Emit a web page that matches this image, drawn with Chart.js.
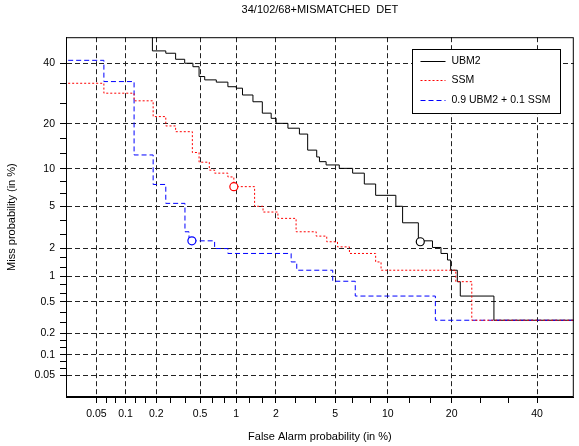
<!DOCTYPE html>
<html>
<head>
<meta charset="utf-8">
<script src="https://cdn.jsdelivr.net/npm/chart.js@4/dist/chart.umd.min.js"></script>
<style>
  html, body { margin: 0; padding: 0; background: #fff; }
</style>
</head>
<body>
<canvas id="det" width="579" height="446"></canvas>
<script>
// axis ticks (percent), both axes use the same normal-deviate scale
const tickValues = [0.05, 0.1, 0.2, 0.5, 1, 2, 5, 10, 20, 40];
const tickLabels = ['0.05', '0.1', '0.2', '0.5', '1', '2', '5', '10', '20', '40'];

// step curves: at each false alarm value (%) the miss rate (%) drops to the paired value
const ubm2FA   = [0.184, 0.184, 0.246, 0.303, 0.366, 0.433, 0.49, 0.548, 0.687, 0.856, 1.0, 1.12, 1.35, 1.59, 1.85, 2.01, 2.44, 2.93, 3.33, 3.82, 3.98, 4.39, 5.3, 6.37, 7.44, 8.6, 11.0, 11.9, 14.2, 16.5, 18.0, 19.2, 19.8, 21.1, 21.7, 29.1, 60];
const ubm2Miss = [60, 44.7, 43.8, 41.5, 40.0, 38.7, 35.1, 33.9, 33.1, 31.5, 31.0, 28.7, 26.5, 23.0, 21.5, 20.1, 18.8, 17.3, 13.6, 12.2, 11.3, 10.7, 10.1, 9.3, 7.66, 6.2, 5.0, 3.55, 2.38, 2.04, 1.77, 1.51, 1.17, 0.87, 0.59, 0.295, 0.295];

const ssmFA   = [0.02, 0.06, 0.122, 0.187, 0.246, 0.303, 0.428, 0.49, 0.60, 0.665, 0.856, 0.956, 1.39, 1.61, 2.07, 2.78, 3.79, 4.43, 5.17, 6.1, 8.6, 9.2, 20.8, 24.1, 60];
const ssmMiss = [32.7, 29.3, 26.8, 22.0, 19.4, 17.9, 13.1, 11.2, 9.8, 9.3, 8.7, 7.3, 5.0, 4.45, 3.9, 2.92, 2.65, 2.33, 2.07, 1.77, 1.44, 1.17, 0.87, 0.295, 0.295];

const mixFA   = [0.02, 0.06, 0.122, 0.187, 0.246, 0.368, 0.40, 0.665, 0.856, 2.57, 2.81, 4.83, 6.6, 17.0, 60];
const mixMiss = [41.1, 33.3, 12.6, 7.6, 5.3, 2.92, 2.38, 1.99, 1.77, 1.44, 1.17, 0.88, 0.59, 0.295, 0.295];

// operating points (circles): [FA %, Miss %]
const ubm2Point = [14.5, 2.33];
const ssmPoint  = [0.956, 7.3];
const mixPoint  = [0.424, 2.38];

const seriesNames = ['UBM2', 'SSM', '0.9 UBM2 + 0.1 SSM'];

// inverse normal cdf (Acklam), input in percent
function probit(pct) {
  const p = pct / 100;
  const a = [-3.969683028665376e+01, 2.209460984245205e+02, -2.759285104469687e+02, 1.383577518672690e+02, -3.066479806614716e+01, 2.506628277459239e+00];
  const b = [-5.447609879822406e+01, 1.615858368580409e+02, -1.556989798598866e+02, 6.680131188771972e+01, -1.328068155922803e+01];
  const c = [-7.784894002430293e-03, -3.223964580411365e-01, -2.400758277161838e+00, -2.549732539343734e+00, 4.374664141464968e+00, 2.938163982698783e+00];
  const d = [7.784695709041462e-03, 3.224671290700398e-01, 2.445134137142996e+00, 3.754408661907416e+00];
  const plow = 0.02425;
  let q, r;
  if (p < plow) {
    q = Math.sqrt(-2 * Math.log(p));
    return (((((c[0]*q+c[1])*q+c[2])*q+c[3])*q+c[4])*q+c[5]) / ((((d[0]*q+d[1])*q+d[2])*q+d[3])*q+1);
  }
  if (p <= 1 - plow) {
    q = p - 0.5; r = q * q;
    return (((((a[0]*r+a[1])*r+a[2])*r+a[3])*r+a[4])*r+a[5])*q / (((((b[0]*r+b[1])*r+b[2])*r+b[3])*r+b[4])*r+1);
  }
  q = Math.sqrt(-2 * Math.log(1 - p));
  return -(((((c[0]*q+c[1])*q+c[2])*q+c[3])*q+c[4])*q+c[5]) / ((((d[0]*q+d[1])*q+d[2])*q+d[3])*q+1);
}

function toPoints(fa, miss) {
  return fa.map((v, i) => ({ x: probit(v), y: probit(miss[i]) }));
}

// majors with labels, two evenly spaced minors in between
function detTicks(scale) {
  const out = [];
  tickValues.forEach((v, i) => {
    const z = probit(v);
    out.push({ value: z, lbl: tickLabels[i] });
    if (i < tickValues.length - 1) {
      const step = (probit(tickValues[i + 1]) - z) / 3;
      out.push({ value: z + step, minor: true });
      out.push({ value: z + 2 * step, minor: true });
    }
  });
  scale.ticks = out;
}

const font = 'Liberation Sans, Arial, Helvetica, sans-serif';
Chart.defaults.font.family = font;
Chart.defaults.color = '#000';

function axis(title, titlePad, fit) {
  return {
    type: 'linear',
    min: -3.5,
    max: 0,
    afterBuildTicks: detTicks,
    afterFit: fit,
    ticks: {
      autoSkip: false,
      maxRotation: 0,
      minRotation: 0,
      padding: 5,
      font: { size: 10.5 },
      color: '#000',
      callback: (v, i, ticks) => ticks[i].lbl || ''
    },
    grid: {
      color: (ctx) => (ctx.tick && ctx.tick.minor) ? 'rgba(0,0,0,0)' : '#222',
      tickColor: '#000',
      tickLength: 6,
      lineWidth: 1
    },
    border: { display: true, color: '#000', width: 1, dash: [5, 3] },
    title: { display: true, text: title, font: { size: 11 }, color: '#000', padding: titlePad }
  };
}

const frameAndLegend = {
  id: 'frameAndLegend',
  afterDraw(chart) {
    const { ctx, chartArea: a } = chart;
    ctx.save();
    ctx.setLineDash([]);
    ctx.lineWidth = 1;
    ctx.strokeStyle = '#000';
    ctx.strokeRect(a.left + 0.5, a.top + 0.5, a.width - 1, a.height - 1);

    // legend box, top right inside the plot
    const bx = Math.round(a.right - 162) + 0.5;
    const by = Math.round(a.top + 12) + 0.5;
    const bw = 148, bh = 64;
    ctx.fillStyle = '#fff';
    ctx.fillRect(bx, by, bw, bh);
    ctx.strokeRect(bx, by, bw, bh);
    ctx.font = '10.5px ' + font;
    ctx.textBaseline = 'middle';
    ctx.textAlign = 'left';
    chart.data.datasets.slice(0, 3).forEach((ds, i) => {
      const y = Math.round(by + 11.5 + i * 19.3) + 0.5;
      ctx.strokeStyle = ds.borderColor;
      ctx.lineWidth = ds.borderWidth;
      ctx.setLineDash(ds.borderDash || []);
      ctx.beginPath();
      ctx.moveTo(bx + 8, y);
      ctx.lineTo(bx + 33, y);
      ctx.stroke();
      ctx.fillStyle = '#000';
      ctx.fillText(ds.label, bx + 39, y);
    });
    ctx.restore();
  }
};

function stepLine(label, data, color, dash, order) {
  return {
    label, data, order,
    borderColor: color,
    borderWidth: 1,
    borderDash: dash,
    stepped: 'before',
    pointRadius: 0,
    fill: false
  };
}

function marker(pt, color) {
  return {
    label: '',
    data: [{ x: probit(pt[0]), y: probit(pt[1]) }],
    showLine: false,
    order: 0,
    pointRadius: 4,
    pointBorderWidth: 1.2,
    pointBorderColor: color,
    pointBackgroundColor: '#fff',
    borderColor: color
  };
}

new Chart(document.getElementById('det'), {
  type: 'line',
  data: {
    datasets: [
      stepLine(seriesNames[0], toPoints(ubm2FA, ubm2Miss), '#000', [], 3),
      stepLine(seriesNames[1], toPoints(ssmFA, ssmMiss), '#ff0000', [2, 2], 1),
      stepLine(seriesNames[2], toPoints(mixFA, mixMiss), '#0000ff', [5, 3], 2),
      marker(ubm2Point, '#000'),
      marker(ssmPoint, '#ff0000'),
      marker(mixPoint, '#0000ff')
    ]
  },
  options: {
    responsive: false,
    animation: false,
    layout: { padding: { left: 0, right: 4, top: 0, bottom: 0 } },
    scales: {
      x: axis('False Alarm probability (in %)', { top: 2, bottom: 2 }, (s) => { s.height = 49; }),
      y: axis('Miss probability (in %)', { top: 5, bottom: 5 }, (s) => { s.width = 66; })
    },
    plugins: {
      legend: { display: false },
      tooltip: { enabled: false },
      title: {
        display: true,
        fullSize: false,
        text: '34/102/68+MISMATCHED  DET',
        color: '#000',
        font: { size: 11, weight: 'normal' },
        padding: { top: 3, bottom: 21 }
      }
    }
  },
  plugins: [frameAndLegend]
});
</script>
</body>
</html>
